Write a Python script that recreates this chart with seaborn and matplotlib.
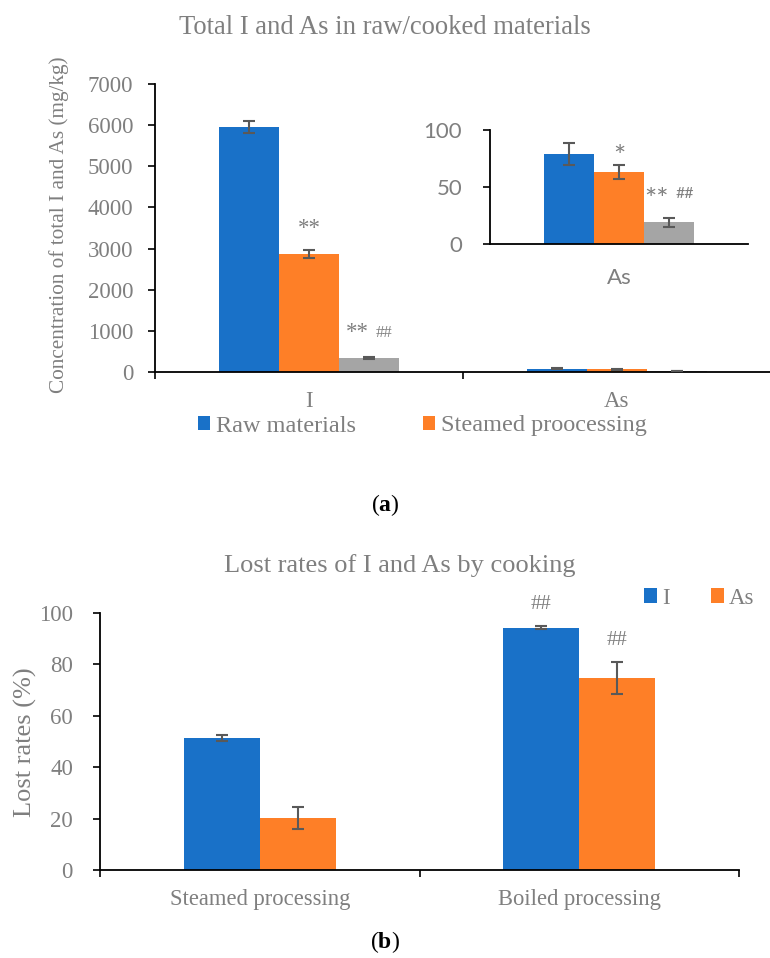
import matplotlib
matplotlib.use("Agg")
import matplotlib.pyplot as plt
import matplotlib.transforms as mtransforms
from matplotlib.patches import Patch
import seaborn as sns
import pandas as pd

# ---------------- data ----------------
elements = ["I", "As"]
treatments = ["Raw materials", "Steamed proocessing", "Boiled processing"]
conc_I = [5960, 2860, 340]
conc_I_err = [150, 95, 30]
conc_As = [79, 63, 19]
conc_As_err = [10, 6, 4]
stars_I = ["", "**", "**"]
hashes_I = ["", "", "##"]
stars_As = ["", "*", "**"]
hashes_As = ["", "", "##"]

processes = ["Steamed processing", "Boiled processing"]
losses = ["I", "As"]
lost_I = [51.3, 94.2]
lost_I_err = [1.1, 0.6]
lost_As = [20.1, 74.5]
lost_As_err = [4.2, 6.2]
hashes_lost_I = ["", "##"]
hashes_lost_As = ["", "##"]

# ---------------- style ----------------
sns.set_theme(style="white")
plt.rcParams["font.family"] = ["Liberation Serif", "DejaVu Serif"]
plt.rcParams["mathtext.fontset"] = "custom"
plt.rcParams["mathtext.rm"] = "Liberation Serif"
plt.rcParams["mathtext.bf"] = "Liberation Serif:bold"
GRAY = "#7f7f7f"
ERR = "#595959"
BLUE, ORANGE, LGRAY = "#1971c8", "#fe7f27", "#a5a5a5"
SANS = ["Lato", "DejaVu Sans"]

W, H = 770, 958
fig = plt.figure(figsize=(W / 100, H / 100), dpi=100)
fig.patch.set_facecolor("white")


def px_axes(x0, x1, y_top, y_bot):
    return fig.add_axes([x0 / W, 1 - y_bot / H, (x1 - x0) / W, (y_bot - y_top) / H])


def style_axes(ax, tick_pad, lab_size, fam=None):
    for s in ["top", "right"]:
        ax.spines[s].set_visible(False)
    for s in ["left", "bottom"]:
        ax.spines[s].set_color("black")
        ax.spines[s].set_linewidth(1.3)
    ax.tick_params(axis="y", which="major", direction="out", length=5, width=1.2,
                   color="black", pad=tick_pad, labelsize=lab_size, labelcolor=GRAY, left=True)
    if fam:
        for t in ax.get_yticklabels():
            t.set_family(fam)
    ax.set_xlabel("")
    ax.set_ylabel("")
    ax.grid(False)
    ax.set_facecolor("none")


def add_errorbars(ax, df, errcol, cap):
    for bar, (_, row) in zip(ax.patches, df.iterrows()):
        xc = bar.get_x() + bar.get_width() / 2
        ax.errorbar(xc, bar.get_height(), yerr=row[errcol], fmt="none", ecolor=ERR,
                    elinewidth=1.5, capsize=cap, capthick=1.5, zorder=5)


def add_marks(ax, df, ypad_pts, star_size, hash_size, fam, star_dy=0, combo_dy=0):
    for bar, (_, row) in zip(ax.patches, df.iterrows()):
        xc = bar.get_x() + bar.get_width() / 2
        ytop = bar.get_height() + row["err"]
        s, h = row["stars"], row["hashes"]
        if s and h:
            tr1 = mtransforms.offset_copy(ax.transData, fig=fig, x=0,
                                          y=ypad_pts + star_dy + combo_dy, units="points")
            ax.text(xc, ytop, s, transform=tr1, ha="right", va="bottom", color=GRAY,
                    fontsize=star_size, family=fam)
            tr2 = mtransforms.offset_copy(ax.transData, fig=fig, x=5,
                                          y=ypad_pts + 1 + combo_dy, units="points")
            ax.text(xc, ytop, h, transform=tr2, ha="left", va="bottom", color=GRAY,
                    fontsize=hash_size, family=fam)
        elif s or h:
            tr = mtransforms.offset_copy(ax.transData, fig=fig, x=0,
                                         y=ypad_pts + (star_dy if s else 0), units="points")
            ax.text(xc, ytop, s or h, transform=tr, ha="center", va="bottom", color=GRAY,
                    fontsize=star_size if s else hash_size, family=fam)


# ---------------- panel (a) main ----------------
df_a = pd.DataFrame({
    "element": [e for _ in treatments for e in elements],
    "treatment": [t for t in treatments for _ in elements],
    "value": [v for i in range(3) for v in (conc_I[i], conc_As[i])],
    "err": [v for i in range(3) for v in (conc_I_err[i], conc_As_err[i])],
    "stars": [v for i in range(3) for v in (stars_I[i], "")],
    "hashes": [v for i in range(3) for v in (hashes_I[i], "")],
})
pal3 = dict(zip(treatments, [BLUE, ORANGE, LGRAY]))

ax = px_axes(155, 771, 84, 372)
sns.barplot(data=df_a, x="element", y="value", hue="treatment", hue_order=treatments,
            order=elements, palette=pal3, width=0.585, gap=0, errorbar=None,
            saturation=1, legend=False, linewidth=0, ax=ax)
ax.set_ylim(0, 7000)
ax.set_xlim(-0.5, 1.5)
ax.set_yticks(range(0, 7001, 1000))
style_axes(ax, 10.5, 16.5)
ax.set_xticks([0, 1])
ax.set_xticklabels(elements)
ax.set_xticks([-0.5, 0.5, 1.5], minor=True)
ax.tick_params(axis="x", which="major", length=0, pad=14, labelsize=16.5, labelcolor=GRAY)
ax.tick_params(axis="x", which="minor", direction="out", length=5, width=1.2, color="black", bottom=True)
add_errorbars(ax, df_a, "err", 4.5)
add_marks(ax, df_a, 8, 16.5, 12, ["Liberation Serif"], combo_dy=2)

fig.text(59 / W, 1 - 225 / H, "Concentration of total I and As (mg/kg)", rotation=90,
         ha="center", va="center", fontsize=15.3, color=GRAY)
fig.text(0.5, 1 - 27 / H, "Total I and As in raw/cooked materials", ha="center", va="center",
         fontsize=19.2, color=GRAY)

handles = [Patch(facecolor=BLUE, edgecolor="none"), Patch(facecolor=ORANGE, edgecolor="none")]
fig.legend(handles, treatments[:2], loc="center left", bbox_to_anchor=(198 / W, 1 - 426 / H),
           ncol=2, frameon=False, fontsize=17.5, labelcolor=GRAY, handlelength=0.5,
           handleheight=0.5, handletextpad=0.25, columnspacing=2.75, borderpad=0, borderaxespad=0)

# ---------------- inset ----------------
df_in = df_a[df_a["element"] == "As"].copy()
df_in["stars"] = stars_As
df_in["hashes"] = hashes_As
axi = px_axes(490, 748, 130, 244)
sns.barplot(data=df_in, x="element", y="value", hue="treatment", hue_order=treatments,
            palette=pal3, width=0.58, gap=0, errorbar=None, saturation=1, legend=False,
            linewidth=0, ax=axi)
axi.set_ylim(0, 100)
axi.set_xlim(-0.5, 0.5)
axi.set_yticks([0, 50, 100])
style_axes(axi, 15, 16, SANS)
axi.tick_params(axis="x", which="major", length=0, pad=17, labelsize=16, labelcolor=GRAY)
for t in axi.get_xticklabels():
    t.set_family(SANS)
add_errorbars(axi, df_in, "err", 4)
add_marks(axi, df_in, 4, 21, 11.5, SANS, star_dy=-8, combo_dy=7)

fig.text(0.5, 1 - 505 / H, r"($\mathbf{a}$)", ha="center", va="center", fontsize=17,
         color="black")

# ---------------- panel (b) ----------------
df_b = pd.DataFrame({
    "process": [p for _ in losses for p in processes],
    "element": [e for e in losses for _ in processes],
    "value": lost_I + lost_As,
    "err": lost_I_err + lost_As_err,
    "stars": ["", "", "", ""],
    "hashes": hashes_lost_I + hashes_lost_As,
})
pal2 = dict(zip(losses, [BLUE, ORANGE]))
axb = px_axes(100, 739, 612.7, 870)
sns.barplot(data=df_b, x="process", y="value", hue="element", hue_order=losses,
            order=processes, palette=pal2, width=0.477, gap=0, errorbar=None,
            saturation=1, legend=False, linewidth=0, ax=axb)
axb.set_ylim(0, 100)
axb.set_xlim(-0.5, 1.5)
axb.set_yticks(range(0, 101, 20))
style_axes(axb, 14.5, 16.5)
axb.set_xticks([0, 1])
axb.set_xticklabels(processes)
axb.set_xticks([-0.5, 0.5, 1.5], minor=True)
axb.tick_params(axis="x", which="major", length=0, pad=14, labelsize=16.3, labelcolor=GRAY)
axb.tick_params(axis="x", which="minor", direction="out", length=5, width=1.2, color="black", bottom=True)
add_errorbars(axb, df_b, "err", 4)
add_marks(axb, df_b, 9, 15, 15, ["Liberation Serif"])

fig.text(25 / W, 1 - 742 / H, "Lost rates (%)", rotation=90, ha="center", va="center",
         fontsize=19, color=GRAY)
fig.text(400 / W, 1 - 566 / H, "Lost rates of I and As by cooking", ha="center", va="center",
         fontsize=19, color=GRAY)
handles_b = [Patch(facecolor=BLUE, edgecolor="none"), Patch(facecolor=ORANGE, edgecolor="none")]
fig.legend(handles_b, losses, loc="center left", bbox_to_anchor=(644 / W, 1 - 598 / H),
           ncol=2, frameon=False, fontsize=16.5, labelcolor=GRAY, handlelength=0.58,
           handleheight=0.58, handletextpad=0.2, columnspacing=1.8, borderpad=0, borderaxespad=0)

fig.text(0.5, 1 - 942 / H, r"($\mathbf{b}$)", ha="center", va="center", fontsize=17,
         color="black")

fig.savefig("out.png", dpi=100, facecolor="white")
